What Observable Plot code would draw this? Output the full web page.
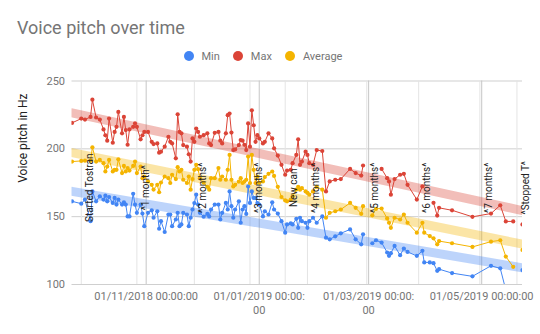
<!DOCTYPE html>
<html><head><meta charset="utf-8">
<script src="https://cdn.jsdelivr.net/npm/d3@7"></script>
<script src="https://cdn.jsdelivr.net/npm/@observablehq/plot@0.6"></script>
<style>
body{margin:0;background:#fff;font-family:Roboto, sans-serif;}
#wrap{position:relative;width:540px;height:334px;overflow:hidden;}
#title{position:absolute;left:17px;top:19px;font-size:18px;line-height:18px;color:#757575;white-space:nowrap;}
#legend{position:absolute;left:183.5px;top:50px;height:12px;display:flex;align-items:center;font-size:11px;color:#757575;white-space:nowrap;}
.item{display:flex;align-items:center;margin-right:13px;}
.sw{width:10px;height:10px;border-radius:50%;margin-right:8px;}
#chart{position:absolute;left:0;top:70px;}
</style></head><body>
<div id="wrap"><div id="title">Voice pitch over time</div><div id="legend"></div><div id="chart"></div></div>
<script>
const seriesNames = ["Min", "Max", "Average"];
const seriesColors = ["#4285F4", "#DB4437", "#F4B400"];

const dates = [
  "2018-09-22","2018-09-27","2018-09-29","2018-10-02","2018-10-03","2018-10-05","2018-10-07","2018-10-09","2018-10-10","2018-10-11",
  "2018-10-12","2018-10-14","2018-10-15","2018-10-16","2018-10-17","2018-10-19","2018-10-20","2018-10-21","2018-10-22","2018-10-23",
  "2018-10-25","2018-10-26","2018-10-27","2018-10-29","2018-10-30","2018-10-31","2018-11-02","2018-11-04","2018-11-05","2018-11-07",
  "2018-11-08","2018-11-09","2018-11-11","2018-11-13",
  "2018-11-14","2018-11-15","2018-11-17","2018-11-18","2018-11-19","2018-11-20","2018-11-21","2018-11-23","2018-11-24","2018-11-25",
  "2018-11-26","2018-11-27","2018-11-28","2018-11-29","2018-11-30","2018-12-02","2018-12-04","2018-12-05","2018-12-06","2018-12-08",
  "2018-12-10","2018-12-11","2018-12-12","2018-12-14","2018-12-15","2018-12-16","2018-12-17","2018-12-18","2018-12-19","2018-12-21",
  "2018-12-22","2018-12-23","2018-12-24","2018-12-25","2018-12-26","2018-12-27","2018-12-28","2018-12-29","2018-12-30","2018-12-31",
  "2019-01-01",
  "2019-01-03","2019-01-04","2019-01-06","2019-01-08","2019-01-09","2019-01-11","2019-01-13","2019-01-15","2019-01-16","2019-01-18",
  "2019-01-19","2019-01-21","2019-01-22","2019-01-23","2019-01-24","2019-01-26","2019-01-27","2019-01-28","2019-01-30","2019-02-01",
  "2019-02-04","2019-02-06","2019-02-08","2019-02-11","2019-02-14","2019-02-19","2019-02-22","2019-02-25","2019-02-26","2019-02-28",
  "2019-03-03","2019-03-05","2019-03-08","2019-03-11","2019-03-12","2019-03-13","2019-03-15","2019-03-18","2019-03-20","2019-03-22",
  "2019-03-27","2019-03-30","2019-03-31","2019-04-03","2019-04-05","2019-04-07","2019-04-08","2019-04-15",
  "2019-04-26","2019-05-06","2019-05-11","2019-05-14","2019-05-18","2019-05-20","2019-05-23"
];

const maxValues = [
  219.1,222.3,221.6,223.5,236.2,223.1,221.6,214.3,210,206,222.3,204.5,212.5,216.2,227.2,211.4,223.5,213.8,203,214.3,
  216.2,218.7,216.2,207,210,212.5,212.5,205.2,203.5,204,197.2,197.9,201.6,208.9,
  205.2,204,193,225.5,212.5,211.4,202.8,201.6,196,190.6,207.7,205.2,215,212.5,208.9,210.1,211.4,204,202.8,211.8,
  212.5,206,204,211.4,224.8,226,212,199.1,199.6,202.8,206.5,206,203,199.1,218.7,201.6,228.4,217.4,205.2,210.1,207.7,
  204,205.2,211.4,207.7,200.4,195,188.2,180.9,184,184.5,189.4,195.5,207,188.2,190.6,197.9,195.5,189.4,188.2,199.1,
  198.4,168.6,176,177.2,177.7,185.2,182.1,180.3,187.7,null,
  null,null,185.2,178.4,176,166.2,177.7,180.9,181.6,173.5,162.6,172.3,null,null,160.2,150.8,156.5,154.7,
  149.9,152.3,158.4,146.5,146.5,null,144.3
];

const avgValues = [
  190.6,191.1,191.3,191.3,201.1,190.6,191.8,189.4,183.3,186.9,191.8,183.3,184.5,184.5,192.3,182.1,187.4,183.3,185.8,184,
  187.4,190.6,182.1,186.9,178.4,179.6,176,173.5,170,173.5,168,175.2,179.6,178.4,
  174.8,180.9,177.7,186.5,183.3,184.5,177.2,174.8,179.6,169.9,177.7,184.5,188.2,185,178.4,175,172,169.9,178.4,178.4,
  185.8,177.2,179.6,177.2,184.5,195.5,177.2,172.3,173.5,175.9,178.4,174.8,175.9,177.2,194.3,174.8,195.5,184.5,174.8,179.6,174.8,
  176,179.2,181.6,183.3,180,172,164.5,162,161.3,162.6,165,170,172,169.9,171.1,168.6,167.5,166.2,168.6,172,
  169.9,149.2,152.8,154,155.3,160.1,156.5,152.1,157.7,null,
  151,155.8,156,148.7,145.5,141.8,149.2,147.9,151.6,145.5,138.2,145.5,138.2,135.7,134,129.6,132,130.4,
  127.7,131.6,132.6,120.6,113,null,125.5
];

const minValues = [
  161.3,159.6,162.6,146.7,168.6,161.3,165,162.6,165.5,161.3,164.5,160.1,163.8,158.9,162.6,158.9,160.6,158.9,150.2,150.2,
  166.9,158.9,152.8,158.9,152.3,143,152.8,154.7,149.2,154,141.1,146.7,138.7,151.6,
  151.6,143,147.9,152.8,143,144.3,152.8,151.6,143,149.2,155.3,160,166.2,158.9,152.8,150,152,150.2,155.3,158.9,
  158.9,147.9,152.8,160.1,155.3,168.6,157.7,149.2,155.3,161.3,145.5,155.3,157.7,152,172.3,160.1,168.6,163.8,163.8,160,158.9,
  150.2,154,151.6,160.6,155.3,152.3,146.7,138.2,144.3,145,144.3,148.4,141.8,149.2,146.7,145.5,141.8,146.7,149.2,145.5,
  150.2,134.5,133.3,135.5,137.7,140.6,133.3,129.6,137,null,
  130.4,132.6,130.9,123.6,121.1,123.1,128.4,121.6,126.5,124,121.1,124.8,116.3,116.3,115.7,110.1,111.3,108.4,
  106,113.8,111.9,96,93,null,110.6
];

const annotationDates = ["2018-09-27","2018-10-27","2018-11-27","2018-12-27","2019-01-15","2019-01-27","2019-02-28","2019-03-28","2019-04-30","2019-05-20"];
const annotationLabels = ["Started Tostran","^1 month^","^2 months^","^3 months^","New can","^4 months^","^5 months^","^6 months^","^7 months^","^Stopped T^"];

const yTicks = [100, 150, 200, 250];
const xTickDates = ["2018-11-01","2019-01-01","2019-03-01","2019-05-01"];
const xTickLabels = ["01/11/2018 00:00:00","01/01/2019 00:00:\n00","01/03/2019 00:00:\n00","01/05/2019 00:00:00"];
const yAxisTitle = "Voice pitch in Hz";

// legend
const legend = document.getElementById("legend");
seriesNames.forEach((n, i) => {
  const it = document.createElement("div"); it.className = "item";
  const sw = document.createElement("div"); sw.className = "sw"; sw.style.background = seriesColors[i];
  const tx = document.createElement("span"); tx.textContent = n;
  it.appendChild(sw); it.appendChild(tx); legend.appendChild(it);
});

const rows = dates.map((d, i) => ({date: new Date(d), min: minValues[i], max: maxValues[i], avg: avgValues[i]}));
const keys = ["min", "max", "avg"];
const xTicks = xTickDates.map((d, i) => ({date: new Date(d), label: xTickLabels[i]}));
const annotations = annotationDates.map((d, i) => ({date: new Date(d), label: annotationLabels[i]}));

const marks = [
  Plot.ruleY(yTicks, {stroke: "#cfcfcf"}),
  Plot.ruleX(annotations, {x: "date", stroke: "#e4e4e4"}),
  Plot.ruleX(xTicks, {x: "date", stroke: "#c6c6c6"}),
  Plot.text(xTicks, {x: "date", text: "label", frameAnchor: "bottom", lineAnchor: "top", dy: 6, lineHeight: 1.27, fontSize: 11, fill: "#757575", fontFamily: "Roboto"})
];
keys.forEach((k, i) => {
  const def = rows.filter(r => r[k] != null);
  marks.push(Plot.linearRegressionY(def, {x: "date", y: k, stroke: seriesColors[i], strokeWidth: 9, strokeOpacity: 0.35, ci: 0, clip: true}));
});
keys.forEach((k, i) => {
  const def = rows.filter(r => r[k] != null);
  marks.push(Plot.line(rows, {x: "date", y: k, stroke: seriesColors[i], strokeWidth: 1, clip: true}));
  marks.push(Plot.dot(def, {x: "date", y: k, fill: seriesColors[i], r: 2.1, clip: true}));
});
marks.push(Plot.text(annotations, {x: "date", text: "label", frameAnchor: "middle", rotate: -90, dx: 8.5, dy: 5, fontSize: 10, fill: "#222", fontFamily: "Roboto"}));
marks.push(Plot.text([yAxisTitle], {frameAnchor: "left", rotate: -90, dx: -49, fontSize: 12, fill: "#222", fontFamily: "Roboto"}));

const chart = Plot.plot({
  width: 540,
  height: 264,
  marginTop: 10.5,
  marginBottom: 50,
  marginLeft: 71.5,
  marginRight: 18,
  style: {fontFamily: "Roboto", fontSize: "11px", color: "#757575", background: "transparent", overflow: "visible"},
  x: {type: "utc", domain: [new Date(dates[0]), new Date(dates[dates.length - 1])], axis: null},
  y: {domain: [100, 250], ticks: yTicks, tickSize: 0, tickPadding: 7, label: null},
  marks
});
document.getElementById("chart").appendChild(chart);
</script>
</body></html>
